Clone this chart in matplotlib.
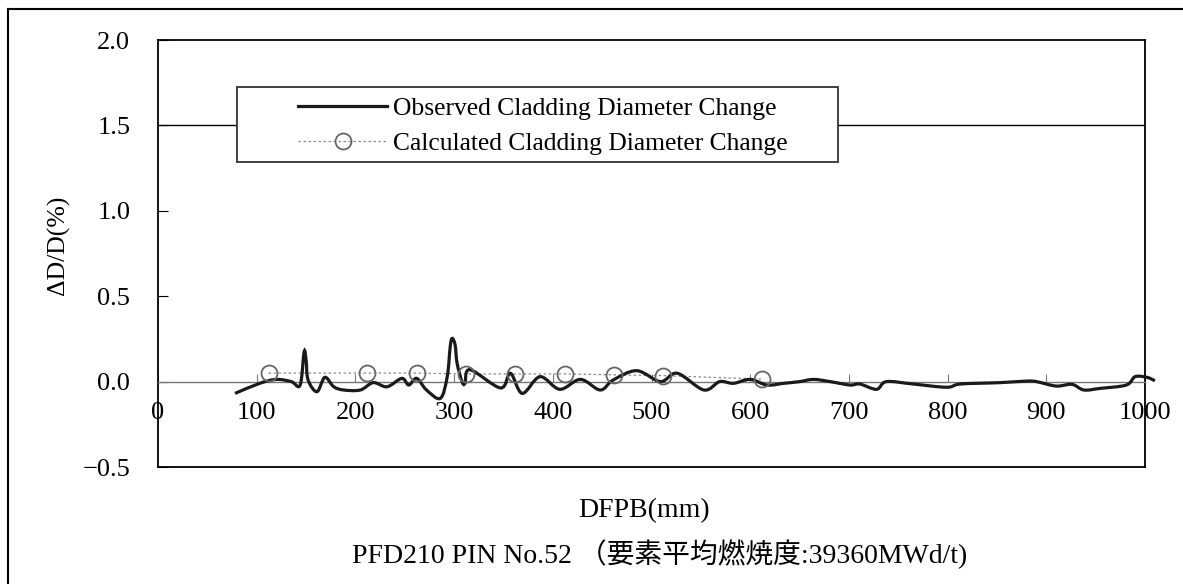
import numpy as np
import matplotlib
matplotlib.use("Agg")
import matplotlib.pyplot as plt
from matplotlib.lines import Line2D
from matplotlib.patches import Rectangle, PathPatch
from matplotlib.path import Path

# Observed cladding diameter change along the pin (DFPB in mm, dD/D in %)
obs_x = [78, 103, 120, 135, 144, 148, 150, 152, 161, 169, 178, 188, 205, 218, 232,
         247, 254, 262, 272, 286, 293, 296, 298, 301, 303, 308, 311, 316, 347, 357,
         369, 387, 407, 428, 448, 461, 485, 509, 526, 553, 569, 583, 600, 617, 634,
         650, 664, 681, 701, 711, 728, 738, 765, 799, 813, 853, 880, 890, 910, 926,
         938, 954, 981, 990, 1002, 1010]
obs_y = [-0.069, -0.010, 0.013, 0.0, -0.020, 0.175, 0.126, 0.01, -0.059, 0.025,
         -0.03, -0.049, -0.049, -0.006, -0.03, 0.019, -0.02, 0.019, -0.049, -0.098,
         0.029, 0.204, 0.253, 0.214, 0.107, 0.0, -0.01, 0.07, -0.037, 0.049, -0.069,
         0.029, -0.045, 0.013, -0.049, 0.009, 0.064, 0.0, 0.049, -0.049, 0.0, -0.01,
         0.013, -0.02, -0.01, 0.0, 0.013, 0.0, -0.02, -0.014, -0.045, 0.0, -0.014,
         -0.033, -0.014, -0.006, 0.003, 0.0, -0.026, -0.016, -0.049, -0.04, -0.02,
         0.029, 0.025, 0.005]

# Calculated values
calc_x = [112, 212, 262, 312, 362, 412, 462, 512, 612]
calc_y = [0.05, 0.05, 0.05, 0.045, 0.045, 0.045, 0.04, 0.035, 0.015]

x_ticks = list(range(0, 1001, 100))
y_ticks = [-0.5, 0.0, 0.5, 1.0, 1.5, 2.0]
y_ticklabels = ["\u22120.5", "0.0", "0.5", "1.0", "1.5", "2.0"]
labels = ["Observed Cladding Diameter Change", "Calculated Cladding Diameter Change"]


def smooth_path(xs, ys):
    """Smoothed line through the points (Catmull-Rom as cubic Bezier segments)."""
    p = np.column_stack([xs, ys]).astype(float)
    p = np.vstack([p[0], p, p[-1]])
    verts = [p[1]]
    codes = [Path.MOVETO]
    for i in range(1, len(p) - 2):
        c1 = p[i] + (p[i + 1] - p[i - 1]) / 6
        c2 = p[i + 1] - (p[i + 2] - p[i]) / 6
        verts += [c1, c2, p[i + 1]]
        codes += [Path.CURVE4] * 3
    return Path(verts, codes)


plt.rcParams["font.family"] = ["Liberation Serif", "Noto Sans CJK JP"]

fig = plt.figure(figsize=(11.83, 5.84), dpi=100)
ax = fig.add_axes([0.1336, 0.2003, 0.8343, 0.7312])

ax.axhline(1.5, color="black", lw=1.0, zorder=1)
ax.plot(calc_x, calc_y, color="#8a8a8a", lw=0.9, ls=(0, (2, 2)), zorder=3)
ax.add_patch(PathPatch(smooth_path(obs_x, obs_y), facecolor="none",
                       edgecolor="#1a1a1a", lw=2.3, clip_on=False, zorder=4))
ax.plot(calc_x, calc_y, ls="none", marker="o", ms=11.5, mfc="none",
        mec="#666666", mew=1.3, zorder=5)

ax.set_xlim(0, 1000)
ax.set_ylim(-0.5, 2.0)
ax.set_xticks(x_ticks)
ax.set_yticks(y_ticks)
ax.set_yticklabels(y_ticklabels)

# x axis runs along zero, frame closed with a line at the bottom
ax.spines["bottom"].set_position(("data", 0))
ax.spines["bottom"].set_color("#777777")
ax.spines["bottom"].set_linewidth(1.0)
for s in ("left", "top", "right"):
    ax.spines[s].set_linewidth(1.3)
ax.plot([0, 1], [0, 0], transform=ax.transAxes, color="black", lw=1.3, clip_on=False)

ax.tick_params(axis="x", direction="in", length=6, pad=15, labelsize=19, color="#777777")
ax.tick_params(axis="y", direction="in", length=7, pad=20, labelsize=19)

ax.set_xlabel("DFPB(mm)", fontsize=20, va="top")
ax.xaxis.set_label_coords(0.4924, -0.072)

# legend box
box = Rectangle((0.080, 0.714), 0.609, 0.176, transform=ax.transAxes,
                facecolor="white", edgecolor="#333333", lw=1.3, zorder=6)
ax.add_patch(box)
handles = [
    Line2D([], [], color="#1a1a1a", lw=2.3),
    Line2D([], [], color="#8a8a8a", lw=0.9, ls=(0, (2, 2)), marker="o", ms=11.5,
           mfc="none", mec="#666666", mew=1.3),
]
leg = ax.legend(handles, labels, loc="upper left", bbox_to_anchor=(0.1418, 0.866),
                frameon=False, borderpad=0, borderaxespad=0, handlelength=3.5,
                handletextpad=0.2, labelspacing=0.45, fontsize=18.4)
leg.set_zorder(7)

fig.text(58 / 1183, 1 - 245 / 584, "\u0394D/D(%)", rotation=90, ha="center",
         va="center", fontsize=18.5)
fig.text(660 / 1183, 1 - 554 / 584, "PFD210 PIN No.52 （要素平均燃焼度:39360MWd/t)",
         ha="center", va="center", fontsize=20)

# outer frame
fig.add_artist(Line2D([8 / 1183, 1], [1 - 9 / 584] * 2, transform=fig.transFigure,
                      color="black", lw=1.5))
fig.add_artist(Line2D([8 / 1183] * 2, [0, 1 - 9 / 584], transform=fig.transFigure,
                      color="black", lw=1.5))

fig.savefig("out.png", dpi=100)
